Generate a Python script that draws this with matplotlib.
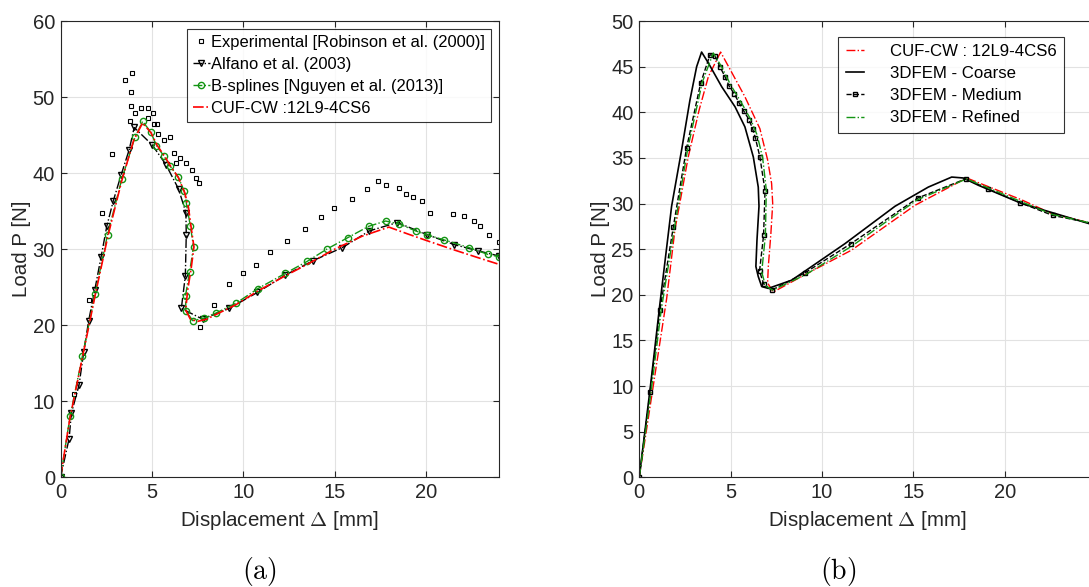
import numpy as np
import matplotlib
matplotlib.use('Agg')
import matplotlib.pyplot as plt

plt.rcParams["font.family"] = ["Liberation Sans", "DejaVu Sans"]
plt.rcParams["mathtext.fontset"] = "cm"

# ---- panel (a) ----
exp_x = [0.0, 0.74, 1.53, 2.29, 2.82, 3.54, 3.90, 3.87, 3.83, 3.81, 4.07, 4.40, 4.78, 5.05, 4.78,
         5.09, 5.29, 5.33, 5.64, 5.99, 6.22, 6.55, 6.33, 6.88, 7.19, 7.43, 7.56,
         7.61, 8.38, 9.20, 9.97, 10.70, 11.47, 12.42, 13.40, 14.28, 14.98, 15.93, 16.79,
         17.37, 17.79, 18.50, 18.89, 19.31, 19.76, 20.20, 21.50, 22.08, 22.60, 22.94, 23.45, 24.0]
exp_y = [0.0, 10.9, 23.3, 34.8, 42.5, 52.2, 53.1, 50.7, 48.8, 46.9, 47.9, 48.5, 48.5, 47.9, 47.3,
         46.5, 46.5, 45.1, 44.4, 44.7, 42.7, 42.0, 41.3, 41.3, 40.4, 39.4, 38.7,
         19.8, 22.6, 25.4, 26.9, 27.9, 29.6, 31.1, 32.6, 34.2, 35.4, 36.6, 37.9,
         38.9, 38.4, 38.0, 37.3, 36.9, 36.3, 34.8, 34.6, 34.3, 33.7, 33.0, 31.9, 31.0]

alfano_x = [0.0, 0.47, 0.59, 1.01, 1.27, 1.54, 1.87, 2.22, 2.53, 2.88, 3.32, 3.76, 4.03, 5.02,
            5.77, 6.46, 6.86, 6.88, 6.83, 6.61, 7.77, 9.22, 10.77, 12.31, 13.83, 15.42, 16.90,
            18.43, 20.07, 21.54, 22.82, 24.0]
alfano_y = [0.0, 5.1, 8.4, 12.1, 16.5, 20.6, 24.6, 29.0, 33.0, 36.3, 39.8, 43.1, 46.0, 43.7,
            41.1, 37.9, 34.8, 31.9, 26.5, 22.2, 20.8, 22.2, 24.3, 26.6, 28.5, 30.2, 32.4,
            33.5, 31.9, 30.6, 29.8, 29.1]

bspl_x = [0.0, 0.52, 1.20, 1.89, 2.57, 3.35, 4.07, 4.49, 4.94, 5.25, 5.64, 5.97, 6.44, 6.77, 6.88,
          7.10, 7.28, 7.06, 6.84, 6.86, 7.23, 7.83, 8.51, 9.61, 10.79, 12.29, 13.50, 14.57,
          15.71, 16.86, 17.79, 18.54, 19.43, 20.04, 21.01, 22.36, 23.40, 24.0]
bspl_y = [0.0, 8.0, 16.0, 24.1, 31.9, 39.2, 44.7, 46.8, 45.4, 43.6, 42.3, 41.0, 39.5, 37.6, 36.1,
          33.1, 30.3, 27.0, 23.9, 21.9, 20.6, 20.9, 21.6, 22.9, 24.8, 26.8, 28.4, 30.0,
          31.5, 33.0, 33.7, 33.3, 32.4, 31.9, 31.2, 30.2, 29.3, 29.0]

cufa_x = [0.0, 0.5, 1.2, 1.9, 2.6, 3.35, 4.0, 4.49, 4.95, 5.3, 5.7, 6.0, 6.45, 6.8, 7.0, 7.15, 7.3,
          7.15, 6.95, 6.85, 7.1, 7.5, 8.0, 8.5, 9.6, 10.8, 12.3, 13.5, 15.0, 16.5, 17.97, 19.0,
          20.07, 21.54, 22.82, 24.0]
cufa_y = [0.0, 7.6, 15.8, 24.0, 31.8, 39.0, 44.3, 46.6, 45.3, 43.6, 42.2, 41.0, 39.4, 37.4, 35.5,
          32.8, 30.3, 27.5, 24.5, 22.0, 20.8, 20.5, 20.8, 21.4, 22.7, 24.5, 26.5, 28.0, 30.0,
          31.7, 32.9, 32.0, 31.1, 29.9, 28.9, 28.0]

# ---- panel (b) ----
cufb_x = [0.0, 1.50, 1.95, 2.68, 3.27, 3.78, 4.45, 5.05, 5.78, 6.60, 7.02, 7.24, 7.30, 7.20, 7.06,
          7.02, 7.33, 9.06, 11.62, 15.08, 17.91, 18.91, 20.92, 22.56, 24.6]
cufb_y = [0.0, 19.6, 27.1, 35.1, 40.2, 43.9, 46.6, 44.4, 41.7, 38.2, 34.8, 32.2, 30.0, 26.7, 23.1,
          21.3, 20.3, 22.2, 24.9, 29.8, 32.8, 32.0, 30.4, 28.9, 27.9]

coarse_x = [0.0, 0.59, 1.13, 1.77, 2.32, 2.77, 3.14, 3.41, 3.78, 4.51, 5.24, 5.78, 6.24, 6.51,
            6.55, 6.44, 6.38, 6.51, 6.70, 7.06, 8.34, 11.25, 13.99, 15.81, 17.09, 17.72, 18.55,
            20.92, 24.6]
coarse_y = [0.0, 9.6, 19.0, 29.7, 35.9, 41.3, 45.0, 46.6, 45.4, 42.8, 40.6, 38.4, 35.1, 31.8,
            29.7, 26.0, 23.1, 22.0, 20.9, 20.7, 21.6, 25.6, 29.7, 31.8, 32.9, 32.8, 32.0,
            30.0, 27.8]

medium_x = [0.0, 0.59, 1.13, 1.86, 2.59, 3.36, 3.87, 4.14, 4.41, 4.69, 4.91, 5.20, 5.47, 5.73,
            6.00, 6.20, 6.35, 6.60, 6.88, 6.80, 6.58, 6.80, 7.24, 9.06, 11.58, 15.23, 17.86,
            19.09, 20.83, 22.61, 24.6]
medium_y = [0.0, 9.3, 18.3, 27.4, 36.1, 43.2, 46.3, 46.2, 45.0, 43.9, 42.9, 42.0, 41.0, 40.1,
            39.2, 38.2, 37.2, 35.1, 31.4, 26.5, 22.6, 21.2, 20.5, 22.4, 25.6, 30.6, 32.7,
            31.6, 30.1, 28.7, 27.9]

refined_x = [0.0, 0.65, 1.2, 1.93, 2.66, 3.45, 4.05, 4.5, 5.0, 5.6, 6.1, 6.45, 6.75, 6.95, 6.9,
             6.7, 6.9, 7.3, 9.1, 11.6, 15.2, 17.9, 19.1, 20.9, 22.6, 24.6]
refined_y = [0.0, 9.4, 18.3, 27.4, 36.1, 43.3, 46.5, 45.0, 43.0, 41.0, 39.2, 37.5, 35.0, 31.5,
             26.5, 22.5, 21.0, 20.5, 22.2, 25.3, 30.4, 32.7, 31.7, 30.2, 28.8, 27.9]

TXT = '#262626'


def style_axes(ax, xlim, ylim, yticks):
    ax.set_xlim(*xlim)
    ax.set_ylim(*ylim)
    ax.set_xticks([0, 5, 10, 15, 20])
    ax.set_yticks(yticks)
    ax.grid(color='#e2e2e2', linewidth=0.8)
    ax.set_axisbelow(True)
    ax.tick_params(direction='in', top=True, right=True, length=4, width=0.8,
                   labelsize=14.5, colors=TXT, pad=4)
    for s in ax.spines.values():
        s.set_color(TXT)
        s.set_linewidth(0.8)
    ax.set_xlabel("Displacement $\\Delta$ [mm]", fontsize=14.8, color=TXT, labelpad=5)
    ax.set_ylabel("Load P [N]", fontsize=14.8, color=TXT, labelpad=1)


fig = plt.figure(figsize=(10.89, 5.87), dpi=100)

ax1 = fig.add_axes([0.0556, 0.1869, 0.4027, 0.7773])
ax1.plot(exp_x, exp_y, linestyle='none', marker='s', markersize=3, markerfacecolor='none',
         markeredgecolor='k', markeredgewidth=0.8, label='Experimental [Robinson et al. (2000)]')
ax1.plot(alfano_x, alfano_y, color='k', linestyle='-.', linewidth=1.0, marker='v', markersize=5,
         markerfacecolor='none', markeredgewidth=1.0, label='Alfano et al. (2003)')
ax1.plot(bspl_x, bspl_y, color='#139413', linestyle='-.', linewidth=1.0, marker='o', markersize=4.5,
         markerfacecolor='none', markeredgewidth=1.0, label='B-splines [Nguyen et al. (2013)]')
ax1.plot(cufa_x, cufa_y, color='#ff0000', linestyle='-.', linewidth=1.2, label='CUF-CW :12L9-4CS6')
style_axes(ax1, (0, 24), (0, 60), np.arange(0, 61, 10))
leg1 = ax1.legend(loc='upper right', fontsize=11.9, frameon=True, fancybox=False, edgecolor='k',
                  handlelength=1.0, handletextpad=0.1, borderpad=0.35, labelspacing=0.42,
                  borderaxespad=0.5)
leg1.get_frame().set_linewidth(0.8)

ax2 = fig.add_axes([0.587, 0.1869, 0.4197, 0.7773])
ax2.plot(cufb_x, cufb_y, color='#ff0000', linestyle='-.', linewidth=1.0, label='CUF-CW : 12L9-4CS6')
ax2.plot(coarse_x, coarse_y, color='k', linestyle='-', linewidth=1.2, label='3DFEM - Coarse')
ax2.plot(medium_x, medium_y, color='k', linestyle='--', linewidth=1.0, marker='s', markersize=3.5,
         markerfacecolor='none', markeredgewidth=1.0, markevery=list(range(len(medium_x) - 1)),
         label='3DFEM - Medium')
ax2.plot(refined_x, refined_y, color='#139413', linestyle='-.', linewidth=1.0, label='3DFEM - Refined')
style_axes(ax2, (0, 25), (0, 50), np.arange(0, 51, 5))
leg2 = ax2.legend(loc='upper right', bbox_to_anchor=(1064 / 1089, 1 - 36.7 / 587),
                  bbox_transform=fig.transFigure, borderaxespad=0, fontsize=12.1, frameon=True,
                  fancybox=False, edgecolor='k', handlelength=1.1, handletextpad=1.5,
                  borderpad=0.45, labelspacing=0.42)
leg2.get_frame().set_linewidth(0.8)

fig.text(259 / 1089, 1 - 572 / 587, r'$\mathrm{(a)}$', fontsize=20, ha='center', va='center')
fig.text(838 / 1089, 1 - 572 / 587, r'$\mathrm{(b)}$', fontsize=20, ha='center', va='center')

fig.savefig('out.png', dpi=100)
plt.close(fig)
